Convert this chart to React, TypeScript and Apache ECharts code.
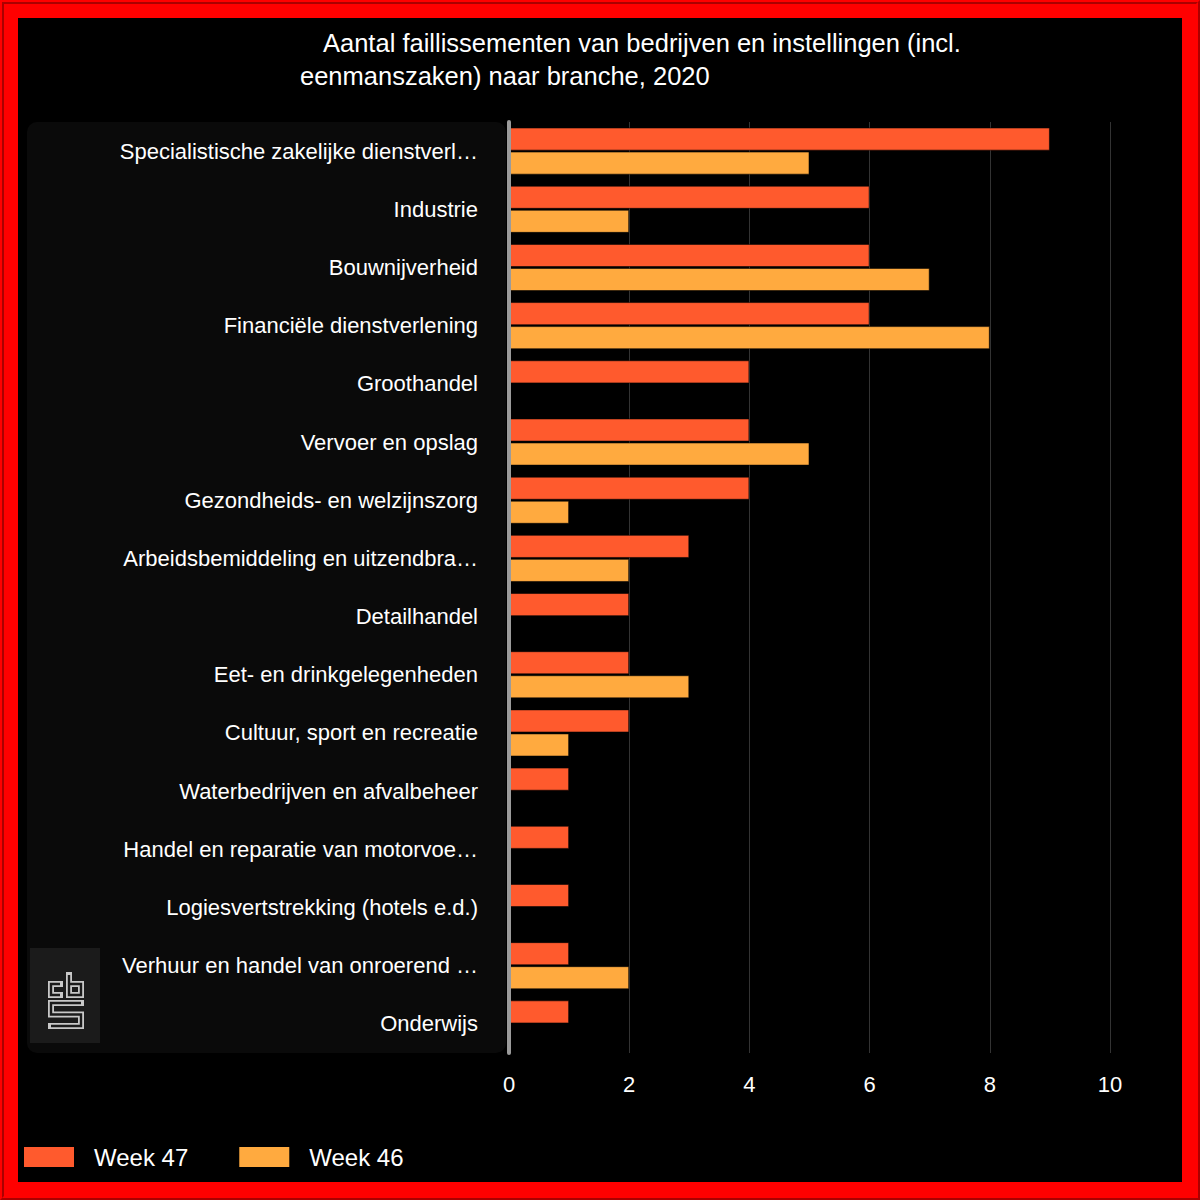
import React, { useEffect, useRef } from "react";
import * as echarts from "echarts";

const categories = [
  "Specialistische zakelijke dienstverl…",
  "Industrie",
  "Bouwnijverheid",
  "Financiële dienstverlening",
  "Groothandel",
  "Vervoer en opslag",
  "Gezondheids- en welzijnszorg",
  "Arbeidsbemiddeling en uitzendbra…",
  "Detailhandel",
  "Eet- en drinkgelegenheden",
  "Cultuur, sport en recreatie",
  "Waterbedrijven en afvalbeheer",
  "Handel en reparatie van motorvoe…",
  "Logiesvertstrekking (hotels e.d.)",
  "Verhuur en handel van onroerend …",
  "Onderwijs",
];

const week47 = [9, 6, 6, 6, 4, 4, 4, 3, 2, 2, 2, 1, 1, 1, 1, 1];
const week46: (number | string)[] = [5, 2, 7, 8, "-", 5, 1, 2, "-", 3, 1, "-", "-", "-", 2, "-"];

const seriesNames = ["Week 47", "Week 46"];
const xMin = 0;
const xMax = 10;
const xInterval = 2;

const titleLine1 = "Aantal faillissementen van bedrijven en instellingen (incl.";
const titleLine2 = "eenmanszaken) naar branche, 2020";

const FONT = "'Liberation Sans', Arial, Helvetica, sans-serif";

const LOGO_D = "M12 12 H3 V23 H12 M21 3 V23 H33 V12 H21 M33 31 H3 V42.5 H33 V54 H3";
let registered = false;
function registerLogo() {
  if (registered) return;
  echarts.graphic.registerShape("cbsLogo", echarts.graphic.extendPath(LOGO_D, {}) as any);
  registered = true;
}

export default function App() {
  const ref = useRef<HTMLDivElement>(null);

  useEffect(() => {
    if (!ref.current) return;
    registerLogo();
    const chart = echarts.init(ref.current, null, { renderer: "svg" });
    chart.setOption({
      animation: false,
      backgroundColor: "#000",
      textStyle: { fontFamily: FONT },
      title: {
        left: 277,
        top: 3,
        text: "{sp|}" + titleLine1 + "\n" + titleLine2,
        textStyle: {
          color: "#fff",
          fontSize: 25.5,
          fontWeight: "normal",
          lineHeight: 33,
          fontFamily: FONT,
          rich: { sp: { width: 23 } },
        },
      },
      legend: {
        left: 1,
        top: 1122,
        icon: "rect",
        itemWidth: 50,
        itemHeight: 20,
        itemGap: 51,
        itemStyle: { borderWidth: 0 },
        textStyle: { color: "#fff", fontSize: 24, padding: [0, 0, 0, 15], fontFamily: FONT },
        data: seriesNames,
      },
      graphic: {
        elements: [
          {
            type: "rect",
            z: -10,
            silent: true,
            shape: { x: 9, y: 104, width: 479, height: 931, r: 10 },
            style: { fill: "#0a0a0a" },
          },
          {
            type: "rect",
            z: -5,
            silent: true,
            shape: { x: 12, y: 930, width: 70, height: 95 },
            style: { fill: "#1b1b1b" },
          },
          {
            type: "cbsLogo",
            x: 30,
            y: 954,
            silent: true,
            style: { fill: null, stroke: "#c8c8c8", lineWidth: 6, lineCap: "square", lineJoin: "miter" },
          },
          {
            type: "cbsLogo",
            x: 30,
            y: 954,
            silent: true,
            style: { fill: null, stroke: "#1b1b1b", lineWidth: 2.4, lineCap: "butt", lineJoin: "miter" },
          },
        ],
      },
      grid: { left: 491, right: 72, top: 104, bottom: 129, containLabel: false },
      xAxis: {
        type: "value",
        min: xMin,
        max: xMax,
        interval: xInterval,
        axisLine: { show: false },
        axisTick: { show: false },
        splitLine: { show: true, lineStyle: { color: "#333", width: 1 } },
        axisLabel: { color: "#fff", fontSize: 22, margin: 20, fontFamily: FONT },
      },
      yAxis: {
        type: "category",
        data: categories,
        inverse: true,
        z: 5,
        axisLine: { show: true, lineStyle: { color: "#9b9b9b", width: 4 } },
        axisTick: { show: false },
        splitLine: { show: false },
        axisLabel: { color: "#fff", fontSize: 22, margin: 31, fontFamily: FONT },
      },
      series: [
        {
          name: seriesNames[0],
          type: "bar",
          data: week47,
          barCategoryGap: "19%",
          barGap: "4%",
          itemStyle: { color: "#ff5a2d", borderColor: "rgba(0,0,0,0.55)", borderWidth: 1 },
        },
        {
          name: seriesNames[1],
          type: "bar",
          data: week46,
          barCategoryGap: "19%",
          barGap: "4%",
          itemStyle: { color: "#ffaa3f", borderColor: "rgba(0,0,0,0.55)", borderWidth: 1 },
        },
      ],
    });
    return () => chart.dispose();
  }, []);

  return (
    <div
      style={{
        position: "absolute",
        left: 0,
        top: 0,
        width: 1200,
        height: 1200,
        boxSizing: "border-box",
        border: "4px ridge #ff0000",
        background: "#ff0000",
        padding: 14,
      }}
    >
      <div ref={ref} style={{ width: 1164, height: 1164, background: "#000" }} />
    </div>
  );
}
